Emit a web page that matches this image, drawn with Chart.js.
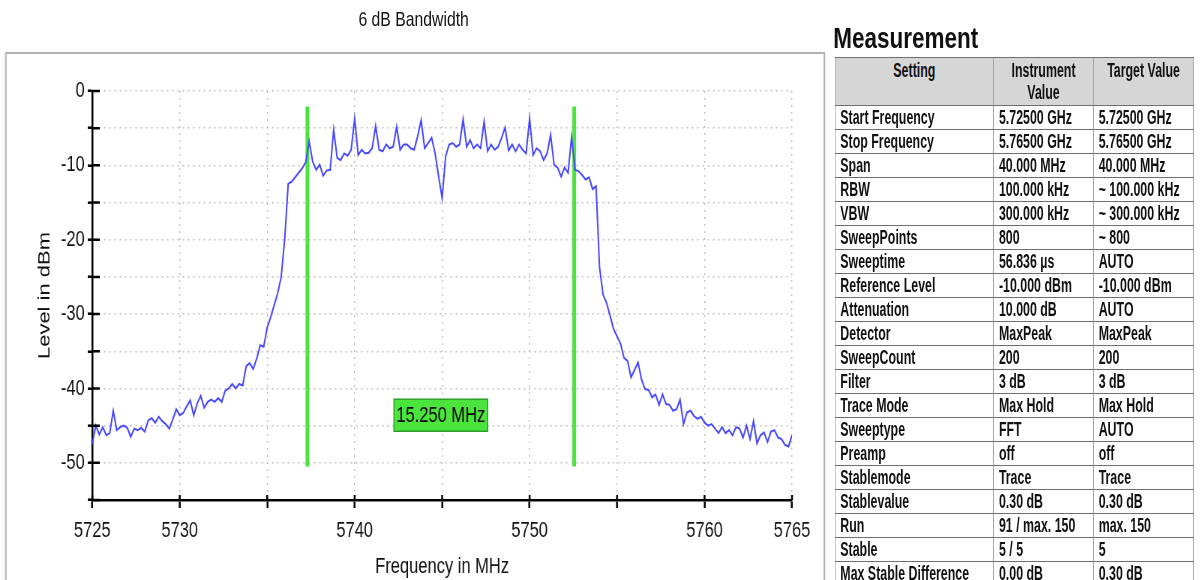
<!DOCTYPE html>
<html>
<head>
<meta charset="utf-8">
<title>6 dB Bandwidth</title>
<script src="https://cdn.jsdelivr.net/npm/chart.js@4.4.1/dist/chart.umd.min.js"></script>
<style>
  html, body { margin: 0; padding: 0; background: #fff; }
  body { width: 1202px; height: 580px; overflow: hidden; position: relative; }
  /* report page is laid out wide, then squeezed horizontally like the exported sheet */
  #sheet {
    position: absolute; left: 0; top: 0; width: 1603px; height: 580px;
    transform: scaleX(0.75); transform-origin: 0 0;
    font-family: "Liberation Sans", Arial, sans-serif; color: #111;
  }
  #title { position: absolute; left: 7px; width: 1089px; top: 7px; text-align: center; font-size: 21px; }
  #panel {
    position: absolute; left: 7px; top: 52px; width: 1089px; height: 560px;
    border: 2px solid #b2b2b2; box-shadow: 0 1px 3px rgba(0,0,0,0.18);
  }
  #chartBox { position: absolute; left: 0; top: 0; width: 1107px; height: 580px; }
  #heading { position: absolute; left: 1111px; top: 21px; font: bold 30px "Liberation Sans", Arial, sans-serif; }
  /* the table text is narrower still */
  #meas {
    position: absolute; left: 1113px; top: 57px; width: 579px;
    transform: scaleX(0.826); transform-origin: 0 0;
    border-collapse: collapse; table-layout: fixed;
    font: bold 20px "Liberation Sans Narrow", "Arial Narrow", "Liberation Sans", sans-serif;
  }
  #meas th, #meas td {
    border-style: solid; border-color: #6e6e6e; border-width: 1px 1.7px;
    padding: 0 0 0 8px; white-space: nowrap; overflow: hidden;
  }
  #meas th { background: #d6d6d6; text-align: center; vertical-align: top; height: 46px; line-height: 22px; padding: 1px 0 0 0; font-weight: bold; }
  #meas td { height: 23px; line-height: 23px; }
</style>
</head>
<body>
<div id="sheet">
  <div id="title">6 dB Bandwidth</div>
  <div id="panel"></div>
  <div id="chartBox"><canvas id="spectrum" width="1107" height="580"></canvas></div>
  <div id="heading">Measurement</div>
  <table id="meas">
    <colgroup><col style="width:256px"><col style="width:161px"><col style="width:162px"></colgroup>
    <thead><tr><th>Setting</th><th>Instrument<br>Value</th><th>Target Value</th></tr></thead>
    <tbody id="measBody"></tbody>
  </table>
</div>
<script>
// sweep frequencies (MHz)
const freqMHz = [
  5725.0, 5725.2, 5725.4, 5725.6, 5725.8, 5726.0, 5726.2, 5726.4, 5726.6, 5726.8,
  5727.0, 5727.2, 5727.4, 5727.6, 5727.8, 5728.0, 5728.2, 5728.4, 5728.6, 5728.8,
  5729.0, 5729.2, 5729.4, 5729.6, 5729.8, 5730.0, 5730.2, 5730.4, 5730.6, 5730.8,
  5731.0, 5731.2, 5731.4, 5731.6, 5731.8, 5732.0, 5732.2, 5732.4, 5732.6, 5732.8,
  5733.0, 5733.2, 5733.4, 5733.6, 5733.8, 5734.0, 5734.2, 5734.4, 5734.6, 5734.8,
  5735.0, 5735.2, 5735.4, 5735.6, 5735.8, 5736.0, 5736.2, 5736.4, 5736.6, 5736.8,
  5737.0, 5737.2, 5737.4, 5737.6, 5737.8, 5738.0, 5738.2, 5738.4, 5738.6, 5738.8,
  5739.0, 5739.2, 5739.4, 5739.6, 5739.8, 5740.0, 5740.2, 5740.4, 5740.6, 5740.8,
  5741.0, 5741.2, 5741.4, 5741.6, 5741.8, 5742.0, 5742.2, 5742.4, 5742.6, 5742.8,
  5743.0, 5743.2, 5743.4, 5743.6, 5743.8, 5744.0, 5744.2, 5744.4, 5744.6, 5744.8,
  5745.0, 5745.2, 5745.4, 5745.6, 5745.8, 5746.0, 5746.2, 5746.4, 5746.6, 5746.8,
  5747.0, 5747.2, 5747.4, 5747.6, 5747.8, 5748.0, 5748.2, 5748.4, 5748.6, 5748.8,
  5749.0, 5749.2, 5749.4, 5749.6, 5749.8, 5750.0, 5750.2, 5750.4, 5750.6, 5750.8,
  5751.0, 5751.2, 5751.4, 5751.6, 5751.8, 5752.0, 5752.2, 5752.4, 5752.6, 5752.8,
  5753.0, 5753.2, 5753.4, 5753.6, 5753.8, 5754.0, 5754.2, 5754.4, 5754.6, 5754.8,
  5755.0, 5755.2, 5755.4, 5755.6, 5755.8, 5756.0, 5756.2, 5756.4, 5756.6, 5756.8,
  5757.0, 5757.2, 5757.4, 5757.6, 5757.8, 5758.0, 5758.2, 5758.4, 5758.6, 5758.8,
  5759.0, 5759.2, 5759.4, 5759.6, 5759.8, 5760.0, 5760.2, 5760.4, 5760.6, 5760.8,
  5761.0, 5761.2, 5761.4, 5761.6, 5761.8, 5762.0, 5762.2, 5762.4, 5762.6, 5762.8,
  5763.0, 5763.2, 5763.4, 5763.6, 5763.8, 5764.0, 5764.2, 5764.4, 5764.6, 5764.8,
  5765.0
];

// max-hold trace level (dBm)
const levelDbm = [
  -47.5, -45.0, -46.2, -45.2, -46.3, -46.0, -43.0, -45.6, -45.2, -45.0,
  -45.3, -46.5, -45.4, -45.6, -45.3, -45.8, -44.3, -44.0, -44.6, -43.8,
  -44.4, -44.8, -45.4, -44.2, -42.8, -43.6, -43.3, -42.4, -41.6, -43.6,
  -42.0, -41.0, -42.6, -41.8, -41.5, -41.8, -41.3, -41.8, -40.3, -40.0,
  -39.4, -40.0, -39.4, -39.6, -37.0, -36.6, -37.4, -36.0, -34.2, -34.4,
  -31.8, -30.4, -28.8, -27.2, -25.0, -20.0, -12.5, -12.2, -11.6, -11.0,
  -10.4, -9.6, -6.8, -9.5, -10.6, -9.9, -11.4, -10.7, -10.6, -5.2,
  -9.0, -9.3, -8.4, -8.7, -7.9, -3.7, -8.6, -7.9, -8.4, -8.3,
  -7.7, -4.7, -7.9, -8.1, -7.2, -7.7, -7.5, -4.8, -7.9, -7.2,
  -7.2, -7.7, -7.9, -6.1, -3.9, -7.7, -7.0, -6.3, -8.4, -11.5,
  -14.4, -8.8, -7.2, -7.0, -7.5, -7.2, -3.8, -7.5, -6.6, -7.7,
  -7.2, -7.7, -4.1, -8.1, -7.2, -7.9, -7.5, -6.3, -4.9, -8.0,
  -7.2, -8.1, -7.2, -7.9, -8.4, -3.7, -8.6, -7.7, -8.1, -9.3,
  -8.4, -5.9, -9.9, -10.3, -11.5, -10.3, -11.0, -6.2, -10.6, -10.8,
  -11.3, -11.9, -11.6, -13.2, -12.8, -23.8, -27.4, -28.5, -30.2, -32.0,
  -33.0, -34.0, -35.9, -36.3, -38.5, -37.5, -36.5, -38.8, -40.1, -40.2,
  -41.2, -40.8, -42.2, -40.8, -42.1, -42.2, -43.0, -42.8, -41.5, -44.8,
  -43.2, -43.0, -43.7, -44.1, -43.8, -44.6, -45.0, -44.8, -45.4, -46.0,
  -45.2, -46.0, -45.6, -46.3, -45.2, -45.4, -46.6, -45.0, -46.8, -44.4,
  -47.4, -46.3, -45.9, -47.2, -45.8, -45.6, -46.6, -46.8, -47.6, -47.8,
  -46.3
];

// 6 dB bandwidth markers
const markerStartMHz = 5737.3;
const bandwidthMHz = 15.25;
const markerLevels = [-2.1, -50.5];
const bandwidthLabelLevel = -43.6;

// axis ticks
const xTickValues = [5725, 5730, 5735, 5740, 5745, 5750, 5755, 5760, 5765];
const xTickLabels = ['5725', '5730', '', '5740', '', '5750', '', '5760', '5765'];
const yTickLabels = { 0: '0', '-10': '-10', '-20': '-20', '-30': '-30', '-40': '-40', '-50': '-50' };

// measurement table
const settingNames = ['Start Frequency', 'Stop Frequency', 'Span', 'RBW', 'VBW', 'SweepPoints', 'Sweeptime',
  'Reference Level', 'Attenuation', 'Detector', 'SweepCount', 'Filter', 'Trace Mode', 'Sweeptype', 'Preamp',
  'Stablemode', 'Stablevalue', 'Run', 'Stable', 'Max Stable Difference'];
const instrumentValues = ['5.72500 GHz', '5.76500 GHz', '40.000 MHz', '100.000 kHz', '300.000 kHz', '800', '56.836 µs',
  '-10.000 dBm', '10.000 dB', 'MaxPeak', '200', '3 dB', 'Max Hold', 'FFT', 'off',
  'Trace', '0.30 dB', '91 / max. 150', '5 / 5', '0.00 dB'];
const targetValues = ['5.72500 GHz', '5.76500 GHz', '40.000 MHz', '~ 100.000 kHz', '~ 300.000 kHz', '~ 800', 'AUTO',
  '-10.000 dBm', 'AUTO', 'MaxPeak', '200', '3 dB', 'Max Hold', 'AUTO', 'off',
  'Trace', '0.30 dB', 'max. 150', '5', '0.30 dB'];

const body = document.getElementById('measBody');
settingNames.forEach((name, i) => {
  const tr = document.createElement('tr');
  [name, instrumentValues[i], targetValues[i]].forEach(txt => {
    const td = document.createElement('td');
    td.textContent = txt;
    tr.appendChild(td);
  });
  body.appendChild(tr);
});

Chart.defaults.font.family = '"Liberation Sans", Arial, sans-serif';
Chart.defaults.color = '#111';

const markerEndMHz = markerStartMHz + bandwidthMHz;
const green = '#4be43c';

// green box with the marker spacing, centred between the markers
const bandwidthLabel = {
  id: 'bandwidthLabel',
  afterDatasetsDraw(chart) {
    const { ctx, scales: { x, y } } = chart;
    const cx = x.getPixelForValue(markerStartMHz + bandwidthMHz / 2);
    const cy = y.getPixelForValue(bandwidthLabelLevel);
    const w = 125, h = 32;
    ctx.save();
    ctx.fillStyle = green;
    ctx.fillRect(cx - w / 2, cy - h / 2, w, h);
    ctx.strokeStyle = '#2c9e2c';
    ctx.lineWidth = 1.5;
    ctx.strokeRect(cx - w / 2, cy - h / 2, w, h);
    ctx.fillStyle = '#000';
    ctx.font = '22px "Liberation Sans", Arial, sans-serif';
    ctx.textAlign = 'center';
    ctx.textBaseline = 'middle';
    ctx.fillText(bandwidthMHz.toFixed(3) + ' MHz', cx, cy + 1);
    ctx.restore();
  }
};

// short tick stubs reaching into the plot, so the ticks cross the axis lines
const innerTicks = {
  id: 'innerTicks',
  afterDraw(chart) {
    const { ctx, chartArea, scales: { x, y } } = chart;
    ctx.save();
    ctx.strokeStyle = '#000';
    ctx.lineWidth = 2.5;
    ctx.beginPath();
    x.ticks.forEach(t => {
      const px = x.getPixelForValue(t.value);
      ctx.moveTo(px, chartArea.bottom);
      ctx.lineTo(px, chartArea.bottom - 5);
    });
    y.ticks.forEach(t => {
      const py = y.getPixelForValue(t.value);
      ctx.moveTo(chartArea.left, py);
      ctx.lineTo(chartArea.left + 10, py);
    });
    ctx.stroke();
    ctx.restore();
  }
};

const ctx = document.getElementById('spectrum');

new Chart(ctx, {
  type: 'line',
  data: {
    datasets: [
      {
        data: freqMHz.map((f, i) => ({ x: f, y: levelDbm[i] })),
        borderColor: '#4646ff',
        borderWidth: 2,
        pointRadius: 0,
        tension: 0
      },
      {
        data: markerLevels.map(l => ({ x: markerStartMHz, y: l })),
        borderColor: green,
        borderWidth: 5,
        pointRadius: 0
      },
      {
        data: markerLevels.map(l => ({ x: markerEndMHz, y: l })),
        borderColor: green,
        borderWidth: 5,
        pointRadius: 0
      }
    ]
  },
  options: {
    responsive: false,
    animation: false,
    layout: { padding: { top: 91, right: 51, left: 0, bottom: 0 } },
    plugins: {
      legend: { display: false },
      tooltip: { enabled: false }
    },
    scales: {
      x: {
        type: 'linear',
        min: 5725,
        max: 5765,
        afterFit(scale) { scale.height = 80 },
        afterBuildTicks(scale) { scale.ticks = xTickValues.map(v => ({ value: v })) },
        ticks: {
          autoSkip: false,
          maxRotation: 0,
          padding: 10,
          color: '#111',
          font: { size: 22 },
          callback: (v) => xTickLabels[xTickValues.indexOf(v)]
        },
        grid: { color: '#bdbdbd', lineWidth: 1.4, tickLength: 8, tickColor: '#000', tickWidth: 2.5 },
        border: { color: '#000', width: 2.5, dash: [2, 5] },
        title: { display: true, text: 'Frequency in MHz', font: { size: 22 }, color: '#111', padding: { top: 0, bottom: 0 } }
      },
      y: {
        min: -55,
        max: 0,
        afterFit(scale) { scale.width = 123 },
        ticks: {
          stepSize: 5,
          padding: 4,
          color: '#111',
          font: { size: 22 },
          callback: (v) => yTickLabels[v] || ''
        },
        grid: { color: '#bdbdbd', lineWidth: 1.4, tickLength: 6, tickColor: '#000', tickWidth: 2.5 },
        border: { color: '#000', width: 2.5, dash: [2, 5] },
        title: { display: true, text: 'Level in dBm', font: { size: 22 }, color: '#111', padding: { top: 47, bottom: 0 } }
      }
    }
  },
  plugins: [bandwidthLabel, innerTicks]
});
</script>
</body>
</html>
